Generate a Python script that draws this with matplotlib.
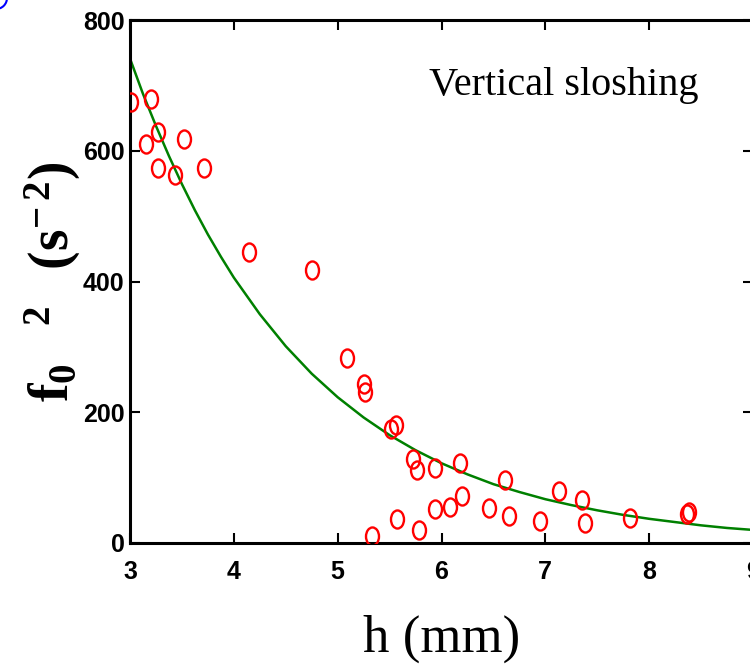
import numpy as np
import matplotlib
matplotlib.use("Agg")
import matplotlib.pyplot as plt
from matplotlib.path import Path
from matplotlib.transforms import Affine2D, IdentityTransform
from matplotlib.patches import Arc

plt.rcParams['mathtext.fontset'] = 'custom'
plt.rcParams['mathtext.bf'] = 'Liberation Serif:bold'
plt.rcParams['mathtext.rm'] = 'Liberation Serif:bold'

# measured points
h_mm = [3.01, 3.20, 3.27, 3.15, 3.52, 3.27, 3.43, 3.71, 4.15, 4.75,
        5.09, 5.25, 5.26, 5.51, 5.56, 5.73, 5.76, 5.94, 6.18, 6.61,
        7.13, 7.35, 7.38, 7.82, 8.36, 8.38, 5.33, 5.57, 5.78, 5.94,
        6.08, 6.20, 6.46, 6.65, 6.95]
f0_sq = [675, 679, 628, 610, 618, 573, 563, 574, 445, 418,
         283, 243, 231, 174, 181, 128, 111, 114, 123, 97,
         80, 66, 30, 38, 44, 47, 10, 37, 20, 52,
         55, 72, 53, 42, 33]

# fitted curve
fit_h = [3.0, 3.125, 3.25, 3.375, 3.5, 3.625, 3.75, 3.875, 4.0, 4.25, 4.5,
         4.75, 5.0, 5.25, 5.5, 5.75, 6.0, 6.25, 6.5, 6.75, 7.0, 7.25, 7.5,
         7.75, 8.0, 8.25, 8.5, 8.75, 9.0]
fit_f = [741, 687, 638, 592, 549, 509, 472, 438, 406, 350, 301,
         259, 223, 192, 165, 142, 122, 105, 90, 78, 67, 58, 50,
         43, 37, 32, 27, 23, 20]

xticks = [3, 4, 5, 6, 7, 8, 9]
yticks = [0, 200, 400, 600, 800]

fig = plt.figure(figsize=(7.5, 6.7), dpi=100)
ax = fig.add_axes([130/750, 127/670, 623/750, 523/670])

# tall open circles (ellipse marker)
ell = Path.unit_circle().transformed(Affine2D().scale(0.72, 1.0))

ax.plot(fit_h, fit_f, color=(0, 0.5, 0), lw=1.8, zorder=2)
ax.plot(h_mm, f0_sq, ls='none', marker=ell, ms=13, mfc='none',
        mec='red', mew=1.7, zorder=3)

ax.set_xlim(3, 9)
ax.set_ylim(0, 800)
ax.set_xticks(xticks)
ax.set_yticks(yticks)

tick_font = dict(family=['Liberation Sans', 'DejaVu Sans'],
                 weight='bold', size=18)
ax.set_xticklabels([str(v) for v in xticks], fontdict=tick_font)
ax.set_yticklabels([str(v) for v in yticks], fontdict=tick_font)
ax.tick_params(direction='in', length=7, width=1.5, top=True, right=True)
ax.tick_params(axis='x', pad=12)
ax.tick_params(axis='y', pad=4)
for sp in ax.spines.values():
    sp.set_linewidth(2.2)

ax.set_xlabel('h (mm)', family='Liberation Serif', fontsize=38, labelpad=22)
ax.set_ylabel(r'$\mathbf{f_{0}\ \ {}^{2}\ \ (s^{-\,2})}$', fontsize=40, labelpad=0)

fig.text(564/750, (670-95)/670, 'Vertical sloshing', family='Liberation Serif',
         fontsize=29, ha='center', va='baseline')

# blue fragment in the top-left corner
arc = Arc((-4, 672), 22, 22, theta1=270, theta2=360, color='blue', lw=1.5,
          transform=IdentityTransform())
fig.add_artist(arc)

fig.savefig('out.png', dpi=100)
